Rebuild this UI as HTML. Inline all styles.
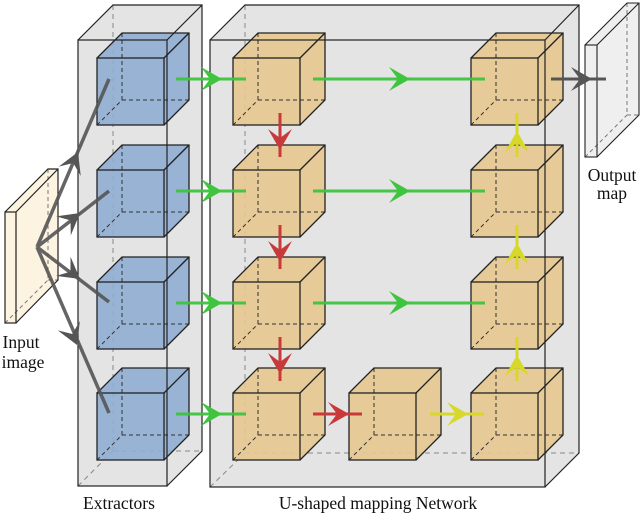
<!DOCTYPE html>
<html><head><meta charset="utf-8"><style>body{margin:0;background:#fff}svg{display:block}</style></head><body>
<svg width="640" height="513" viewBox="0 0 640 513" xmlns="http://www.w3.org/2000/svg">
<defs>
<path id="ah" d="M0,0 L-21,-12 L-12,0 L-21,12 Z"/>
<g id="blue">
 <polygon points="0,0 25,-25 92,-25 92,42 67,67 0,67" fill="#8fadd0" fill-opacity="0.9" stroke="none"/>
 <g stroke="#333" stroke-width="1" fill="none" stroke-dasharray="4,3"><line x1="25" y1="-25" x2="25" y2="42"/><line x1="25" y1="42" x2="92" y2="42"/><line x1="0" y1="67" x2="25" y2="42"/></g>
 <g stroke="#222" stroke-width="1.3" fill="none"><rect x="0" y="0" width="67" height="67"/><polyline points="0,0 25,-25 92,-25 92,42 67,67"/><line x1="67" y1="0" x2="92" y2="-25"/></g>
</g>
<g id="org">
 <polygon points="0,0 25,-25 92,-25 92,42 67,67 0,67" fill="#e6c890" fill-opacity="0.92" stroke="none"/>
 <g stroke="#333" stroke-width="1" fill="none" stroke-dasharray="4,3"><line x1="25" y1="-25" x2="25" y2="42"/><line x1="25" y1="42" x2="92" y2="42"/><line x1="0" y1="67" x2="25" y2="42"/></g>
 <g stroke="#222" stroke-width="1.3" fill="none"><rect x="0" y="0" width="67" height="67"/><polyline points="0,0 25,-25 92,-25 92,42 67,67"/><line x1="67" y1="0" x2="92" y2="-25"/></g>
</g>
</defs>
<polygon points="5,212 48,169 58,169 58,280 16,323 5,323" fill="#fdf3e1"/>
<g stroke="#777" stroke-dasharray="4,3" fill="none"><line x1="48" y1="169" x2="48" y2="280"/><line x1="48" y1="280" x2="58" y2="280"/><line x1="5" y1="323" x2="48" y2="280"/></g>
<g stroke="#222" stroke-width="1.2" fill="none"><rect x="5" y="212" width="11" height="111"/><polyline points="5,212 48,169 58,169 58,280 16,323"/><line x1="16" y1="212" x2="58" y2="169"/></g>
<polygon points="78,40 113,5 202,5 202,451 167,486 78,486" fill="#e4e4e4"/>
<polygon points="210,40 245,5 579,5 579,453 545,487 210,487" fill="#e4e4e4"/>
<g stroke="#888" stroke-dasharray="5,4" fill="none">
<line x1="113" y1="5" x2="113" y2="451"/><line x1="113" y1="451" x2="202" y2="451"/><line x1="78" y1="486" x2="113" y2="451"/>
<line x1="245" y1="5" x2="245" y2="453"/><line x1="245" y1="453" x2="579" y2="453"/><line x1="210" y1="487" x2="245" y2="453"/>
</g>
<use href="#blue" x="97" y="58"/><use href="#blue" x="97" y="170"/><use href="#blue" x="97" y="282"/><use href="#blue" x="97" y="393"/>
<use href="#org" x="233" y="58"/><use href="#org" x="233" y="170"/><use href="#org" x="233" y="282"/><use href="#org" x="233" y="393"/>
<use href="#org" x="349" y="393"/>
<use href="#org" x="471" y="58"/><use href="#org" x="471" y="170"/><use href="#org" x="471" y="282"/><use href="#org" x="471" y="393"/>
<g stroke="#222" stroke-width="1.2" fill="none">
<rect x="78" y="40" width="89" height="446"/><polyline points="78,40 113,5 202,5 202,451 167,486"/><line x1="167" y1="40" x2="202" y2="5"/>
<rect x="210" y="40" width="335" height="447"/><polyline points="210,40 245,5 579,5 579,453 545,487"/><line x1="545" y1="40" x2="579" y2="5"/>
</g>
<polygon points="585,45 627,3 639,3 639,115 597,157 585,157" fill="#efefef"/>
<g stroke="#777" stroke-dasharray="4,3" fill="none"><line x1="627" y1="3" x2="627" y2="115"/><line x1="627" y1="115" x2="639" y2="115"/><line x1="585" y1="157" x2="627" y2="115"/></g>
<g stroke="#222" stroke-width="1.1" fill="none"><rect x="585" y="45" width="12" height="112"/><polyline points="585,45 627,3 639,3 639,115 597,157"/><line x1="597" y1="45" x2="639" y2="3"/></g>
<g stroke="#555" stroke-width="3.5" fill="none" opacity="0.9">
<line x1="37" y1="247" x2="109" y2="79"/><line x1="37" y1="247" x2="109" y2="191"/><line x1="37" y1="247" x2="109" y2="302"/><line x1="37" y1="247" x2="109" y2="413"/>
</g>
<g fill="#555">
<use href="#ah" transform="translate(78,152) rotate(-66.8)"/>
<use href="#ah" transform="translate(80,213) rotate(-37.9)"/>
<use href="#ah" transform="translate(80,279) rotate(37.3)"/>
<use href="#ah" transform="translate(77,345) rotate(67.1)"/>
</g>
<g stroke="#3ec43e" stroke-width="3" opacity="0.95">
<line x1="176" y1="79" x2="246" y2="79"/><line x1="176" y1="191" x2="246" y2="191"/><line x1="176" y1="303" x2="246" y2="303"/><line x1="176" y1="414" x2="246" y2="414"/>
<line x1="313" y1="79" x2="485" y2="79"/><line x1="313" y1="191" x2="485" y2="191"/><line x1="313" y1="303" x2="485" y2="303"/>
</g>
<g fill="#3ec43e">
<use href="#ah" transform="translate(222,79)"/><use href="#ah" transform="translate(222,191)"/><use href="#ah" transform="translate(222,303)"/><use href="#ah" transform="translate(222,414)"/>
<use href="#ah" transform="translate(410,79)"/><use href="#ah" transform="translate(410,191)"/><use href="#ah" transform="translate(410,303)"/>
</g>
<g stroke="#c83a3a" stroke-width="3">
<line x1="280" y1="113" x2="280" y2="157"/><line x1="280" y1="225" x2="280" y2="269"/><line x1="280" y1="337" x2="280" y2="381"/>
<line x1="313" y1="414" x2="362" y2="414"/>
</g>
<g fill="#c83a3a">
<use href="#ah" transform="translate(280,150) rotate(90)"/><use href="#ah" transform="translate(280,262) rotate(90)"/><use href="#ah" transform="translate(280,374) rotate(90)"/>
<use href="#ah" transform="translate(349,414)"/>
</g>
<g stroke="#d8d82a" stroke-width="3">
<line x1="517" y1="157" x2="517" y2="113"/><line x1="517" y1="269" x2="517" y2="225"/><line x1="517" y1="381" x2="517" y2="337"/>
<line x1="430" y1="414" x2="484" y2="414"/>
</g>
<g fill="#d8d82a">
<use href="#ah" transform="translate(517,131) rotate(-90)"/><use href="#ah" transform="translate(517,243) rotate(-90)"/><use href="#ah" transform="translate(517,355) rotate(-90)"/>
<use href="#ah" transform="translate(468,414)"/>
</g>
<line x1="551" y1="79" x2="606" y2="79" stroke="#555" stroke-width="3"/>
<use href="#ah" fill="#555" transform="translate(592,79)"/>
<g font-family="Liberation Serif, serif" font-size="17.5" fill="#111">
<text x="21" y="348" text-anchor="middle">Input</text>
<text x="23" y="368" text-anchor="middle">image</text>
<text x="612" y="181" text-anchor="middle">Output</text>
<text x="612" y="199" text-anchor="middle">map</text>
<text x="119" y="509" text-anchor="middle">Extractors</text>
<text x="378" y="509" text-anchor="middle">U-shaped mapping Network</text>
</g>
</svg>
</body></html>
